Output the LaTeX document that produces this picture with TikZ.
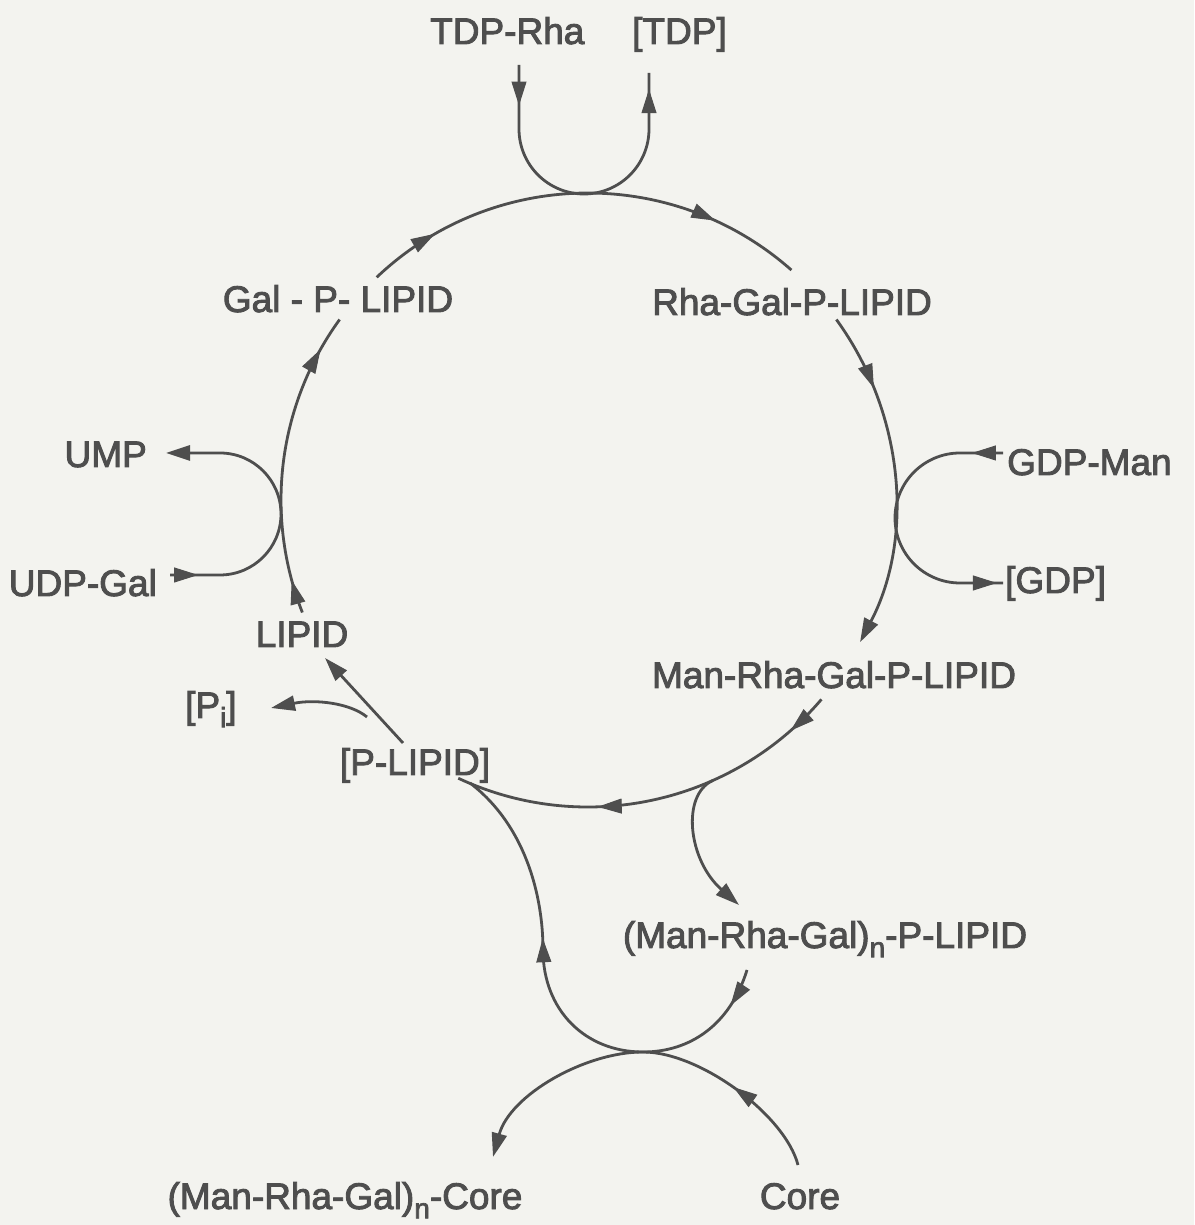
\documentclass[tikz,border=0pt]{standalone}
\usepackage{fontspec}
\setmainfont{Liberation Sans}
\newfontfamily\lblfont[FakeBold=2.5]{Liberation Sans}
\usetikzlibrary{arrows.meta,decorations.markings,calc}
\definecolor{ink}{RGB}{78,78,78}
\definecolor{paper}{RGB}{243,243,239}
\newcommand{\arrowtipmark}{\arrow[line width=1pt]{Triangle[length=24pt,width=15pt]}}
\newcommand{\lsub}[1]{\raisebox{-0.25em}{\fontsize{28}{28}\selectfont #1}}
\begin{document}
\begin{tikzpicture}[x=1pt,y=1pt,
  lbl/.style={inner sep=0pt, text=ink, font=\lblfont\fontsize{37}{40}\selectfont},
  flow/.style={draw=ink, line width=2.8pt},
  endtip/.style={-{Triangle[length=24pt,width=15pt]}},
  markone/.style={postaction={decorate},
    decoration={markings, mark=at position #1 with {\arrowtipmark}}},
  marktwo/.style 2 args={postaction={decorate},
    decoration={markings, mark=at position #1 with {\arrowtipmark},
                mark=at position #2 with {\arrowtipmark}}}]
\fill[paper] (0,0) rectangle (1194,1225);
\useasboundingbox (0,0) rectangle (1194,1225);

% labels
\node[lbl, anchor=base west] (tdprha) at (430,1181) {TDP-Rha};
\node[lbl, anchor=base west] (tdp) at (632,1181) {[TDP]};
\node[lbl, anchor=base] (galp) at (338,913) {Gal - P- LIPID};
\node[lbl, anchor=base] (rhagal) at (792,910) {Rha-Gal-P-LIPID};
\node[lbl, anchor=base west] (gdpman) at (1007,750) {GDP-Man};
\node[lbl, anchor=base west] (gdp) at (1005,632) {[GDP]};
\node[lbl, anchor=base east] (ump) at (147,758) {UMP};
\node[lbl, anchor=base east] (udpgal) at (157,629) {UDP-Gal};
\node[lbl, anchor=base] (lipid) at (302,578) {LIPID};
\node[lbl, anchor=base west] (pi) at (185,507) {[P\lsub{i}]};
\node[lbl, anchor=base] (plipid) at (415,450) {[P-LIPID]};
\node[lbl, anchor=base] (manrha) at (834,537) {Man-Rha-Gal-P-LIPID};
\node[lbl, anchor=base] (nplipid) at (825,277) {(Man-Rha-Gal)\lsub{n}-P-LIPID};
\node[lbl, anchor=base] (ncore) at (345,16) {(Man-Rha-Gal)\lsub{n}-Core};
\node[lbl, anchor=base] (core) at (800,16) {Core};

% main cycle
\coordinate (c) at (588,725);
\coordinate (aS) at ($(c)+(133.5:307)$);
\coordinate (bS) at ($(c)+(36:307)$);
\coordinate (cS) at ($(c)+(-40.5:307)$);
\coordinate (dS) at ($(c)+(201.5:307)$);
\draw[flow, marktwo={0.16}{0.80}] (aS) arc[start angle=133.5, end angle=48.5, radius=307];
\draw[flow, endtip, markone=0.23] (bS) arc[start angle=36, end angle=-27.6, radius=307];
\draw[flow, marktwo={0.11}{0.64}] (cS) arc[start angle=-40.5, end angle=-115, radius=307];
\draw[flow, marktwo={0.11}{0.885}] (dS) arc[start angle=201.5, end angle=144, radius=307];

% [P-LIPID] -> LIPID and [Pi]
\coordinate (eS) at (403,482);
\coordinate (eE) at (325,567);
\coordinate (piS) at (367,508);
\coordinate (piE) at (271,517);
\draw[flow, endtip] (eS) -- (eE);
\draw[flow, endtip] (piS) .. controls (350,522) and (315,526) .. (piE);

% TDP-Rha / [TDP]
\coordinate (tdpA) at (519,1160);
\coordinate (tdpB) at (649,1152);
\draw[flow, marktwo={0.125}{0.95}] (tdpA) -- (519,1096)
  arc[start angle=180, end angle=360, radius=65] -- (tdpB);

% GDP-Man / [GDP]
\coordinate (gdpA) at (1003,772);
\coordinate (gdpB) at (1003,642);
\draw[flow, marktwo={0.107}{0.979}] (gdpA) -- (960,772)
  arc[start angle=90, end angle=270, radius=65] -- (gdpB);

% UDP-Gal / UMP
\coordinate (udpA) at (170,650);
\coordinate (umpB) at (166,772);
\draw[flow, endtip, markone=0.095] (udpA) -- (220,650)
  arc[start angle=-90, end angle=90, radius=61] -- (umpB);

% polymer branch
\coordinate (nS) at ($(c)+(-66:307)$);
\coordinate (nE) at (739,320);
\draw[flow, endtip] (nS) .. controls (681,430) and (688,365) .. (nE);

% upper U: polymer-P-LIPID -> [P-LIPID]
\coordinate (uS) at (747,255);
\coordinate (mid) at (643,173);
\coordinate (uE) at (470,442);
\draw[flow, marktwo={0.08}{0.64}] (uS) .. controls (730,200) and (690,173) .. (mid)
  .. controls (585,173) and (543,215) .. (543,275)
  .. controls (543,330) and (525,400) .. (uE);

% lower inverted U: Core -> (Man-Rha-Gal)n-Core
\coordinate (coreS) at (798,60);
\coordinate (ncoreE) at (493,68);
\draw[flow, endtip, markone=0.26] (coreS) .. controls (785,110) and (700,173) .. (mid)
  .. controls (585,173) and (510,130) .. (ncoreE);
\end{tikzpicture}
\end{document}
